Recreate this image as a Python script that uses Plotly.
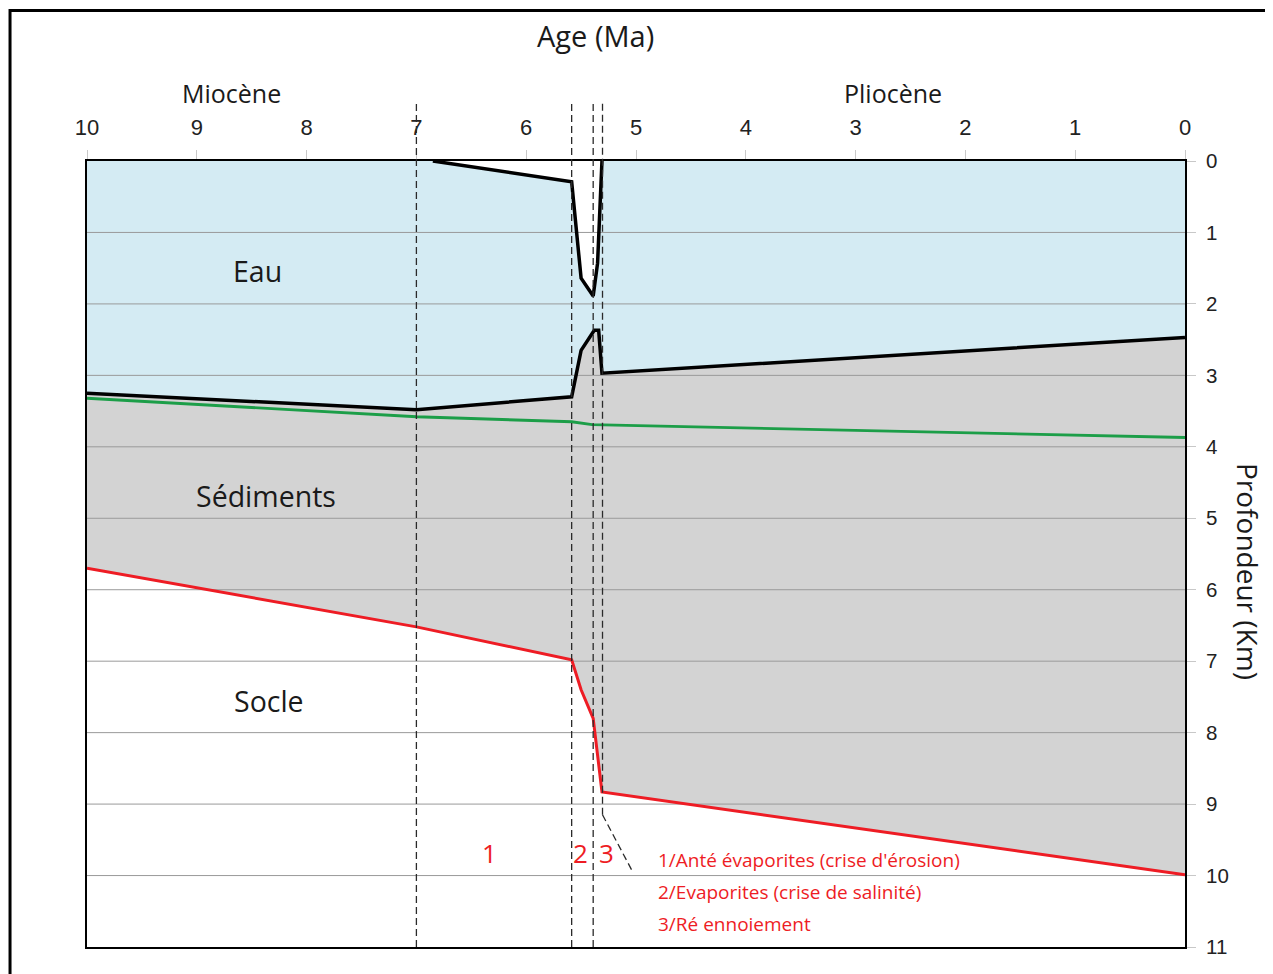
import plotly.graph_objects as go

# ---- data (age in Ma, depth in km) ----
x_ticks = [10, 9, 8, 7, 6, 5, 4, 3, 2, 1, 0]
y_ticks = [0, 1, 2, 3, 4, 5, 6, 7, 8, 9, 10, 11]

# sea surface (top of water) during the crisis
surf_age = [6.85, 5.586, 5.50, 5.39, 5.35, 5.31]
surf_depth = [0.0, 0.29, 1.64, 1.89, 1.43, 0.0]

# sea floor (top of sediments)
floor_age = [10, 7.0, 5.586, 5.50, 5.38, 5.34, 5.31, 0]
floor_depth = [3.25, 3.48, 3.30, 2.65, 2.37, 2.37, 2.97, 2.47]

# green horizon
green_age = [10, 7.0, 5.586, 5.40, 0]
green_depth = [3.32, 3.58, 3.65, 3.69, 3.87]

# basement (top of socle)
socle_age = [10, 7.0, 5.586, 5.50, 5.39, 5.31, 0]
socle_depth = [5.70, 6.52, 6.98, 7.40, 7.80, 8.83, 9.99]

# vertical dashed time limits
limit_ages = [7.0, 5.586, 5.39]
limit3_age = [5.305, 5.305, 5.04]
limit3_depth = [None, 9.15, 9.92]

region_labels = ["Eau", "Sédiments", "Socle"]
region_age = [8.45, 8.37, 8.34]
region_depth = [1.54, 4.69, 7.56]

phase_labels = ["1", "2", "3"]
phase_age = [6.33, 5.51, 5.27]
phase_depth = [9.68, 9.68, 9.68]

legend_lines = ["1/Anté évaporites (crise d'érosion)",
                "2/Evaporites (crise de salinité)",
                "3/Ré ennoiement"]
legend_age = 4.815
legend_depth = [9.78, 10.23, 10.68]

BLUE = "#d4ebf3"
GREY = "#d3d3d3"
GREEN = "#1c9e48"
RED = "#ee1c24"
TXT_FONT = "Open Sans"
TICK_FONT = "Liberation Sans"

fig = go.Figure()

# water polygon
water_x = [10] + surf_age + [0] + floor_age[::-1]
water_y = [0] + surf_depth + [0] + floor_depth[::-1]
fig.add_trace(go.Scatter(x=water_x, y=water_y, fill="toself", fillcolor=BLUE,
                         mode="lines", line=dict(width=0), hoverinfo="skip"))
# sediment polygon
sed_x = floor_age + socle_age[::-1]
sed_y = floor_depth + socle_depth[::-1]
fig.add_trace(go.Scatter(x=sed_x, y=sed_y, fill="toself", fillcolor=GREY,
                         mode="lines", line=dict(width=0), hoverinfo="skip"))

# horizontal grid lines drawn over the fills
gx, gy = [], []
for d in y_ticks[1:-1]:
    gx += [10, 0, None]
    gy += [d, d, None]
fig.add_trace(go.Scatter(x=gx, y=gy, mode="lines",
                         line=dict(color="#9a9a9a", width=1), hoverinfo="skip"))

# boundary lines
fig.add_trace(go.Scatter(x=surf_age, y=surf_depth, mode="lines",
                         line=dict(color="black", width=3.5)))
fig.add_trace(go.Scatter(x=floor_age, y=floor_depth, mode="lines",
                         line=dict(color="black", width=3.5)))
fig.add_trace(go.Scatter(x=green_age, y=green_depth, mode="lines",
                         line=dict(color=GREEN, width=2.9)))
fig.add_trace(go.Scatter(x=socle_age, y=socle_depth, mode="lines",
                         line=dict(color=RED, width=3)))

shapes = []
top_paper = 1.0776
for a in limit_ages:
    shapes.append(dict(type="line", xref="x", yref="paper", x0=a, x1=a,
                       y0=0, y1=top_paper, layer="above",
                       line=dict(color="#2a2a2a", width=1.3, dash="7px,4px")))
# third limit: vertical then oblique
shapes.append(dict(type="line", xref="x", yref="paper", x0=limit3_age[0], x1=limit3_age[0],
                   y0=(11 - limit3_depth[1]) / 11, y1=top_paper, layer="above",
                   line=dict(color="#2a2a2a", width=1.3, dash="7px,4px")))
shapes.append(dict(type="line", xref="x", yref="y", x0=limit3_age[1], x1=limit3_age[2],
                   y0=limit3_depth[1], y1=limit3_depth[2], layer="above",
                   line=dict(color="#2a2a2a", width=1.3, dash="7px,4px")))
# outer frame
shapes.append(dict(type="rect", xref="paper", yref="paper",
                   x0=-0.0701, x1=1.09, y0=-0.06, y1=1.1915,
                   line=dict(color="black", width=3)))

def ann(**kw):
    kw.setdefault("showarrow", False)
    kw.setdefault("xanchor", "center")
    kw.setdefault("yanchor", "middle")
    return kw

annotations = []
for t, a, d in zip(region_labels, region_age, region_depth):
    annotations.append(ann(x=a, y=d, xref="x", yref="y", text=t,
                           font=dict(family=TXT_FONT, size=28.5, color="#1a1a1a")))
for t, a, d in zip(phase_labels, phase_age, phase_depth):
    annotations.append(ann(x=a, y=d, xref="x", yref="y", text=t,
                           font=dict(family=TXT_FONT, size=26, color=RED)))
for t, d in zip(legend_lines, legend_depth):
    annotations.append(ann(x=legend_age, y=d, xref="x", yref="y", text=t,
                           xanchor="left",
                           font=dict(family=TXT_FONT, size=19, color=RED)))
annotations += [
    ann(x=(595 - 87) / 1098, y=(947 - 35) / 786, xref="paper", yref="paper",
        text="Age (Ma)", font=dict(family=TXT_FONT, size=29, color="#1a1a1a")),
    ann(x=(231 - 87) / 1098, y=(947 - 93) / 786, xref="paper", yref="paper",
        text="Miocène", font=dict(family=TXT_FONT, size=25, color="#1a1a1a")),
    ann(x=(893 - 87) / 1098, y=(947 - 93) / 786, xref="paper", yref="paper",
        text="Pliocène", font=dict(family=TXT_FONT, size=25, color="#1a1a1a")),
    ann(x=(1248 - 87) / 1098, y=(947 - 571) / 786, xref="paper", yref="paper",
        text="Profondeur (Km)", textangle=90,
        font=dict(family=TXT_FONT, size=28, color="#1a1a1a")),
]

# page has an 8px body margin: shrink figure so plot area lands at 87..1185 x 161..947
fig.update_layout(
    width=1265, height=966,
    margin=dict(l=79, r=88, t=153, b=27),
    paper_bgcolor="white", plot_bgcolor="white",
    showlegend=False,
    shapes=shapes, annotations=annotations,
    xaxis=dict(range=[10, 0], side="top", tickvals=x_ticks, showgrid=False,
               zeroline=False, showline=True, linecolor="black", linewidth=2,
               mirror=True, ticks="outside", ticklen=9, tickcolor="#c8c8c8",
               tickwidth=1, ticklabelstandoff=6,
               tickfont=dict(family=TICK_FONT, size=22, color="#222")),
    yaxis=dict(range=[11, 0], side="right", tickvals=y_ticks, showgrid=False,
               zeroline=False, showline=True, linecolor="black", linewidth=2,
               mirror=True, ticks="outside", ticklen=9, tickcolor="#c8c8c8",
               tickwidth=1, ticklabelstandoff=6,
               tickfont=dict(family=TICK_FONT, size=20.5, color="#222")),
)

fig.write_html("out.html")
